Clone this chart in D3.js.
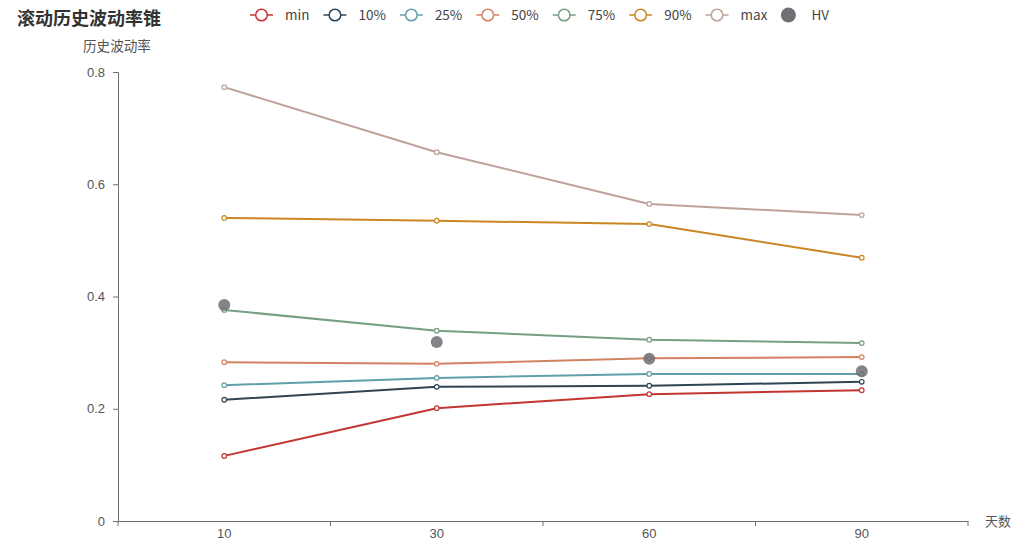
<!DOCTYPE html>
<html><head><meta charset="utf-8">
<script src="https://cdn.jsdelivr.net/npm/d3@7"></script>
<style>body{margin:0;background:#fff}svg{display:block;font-family:"Noto Sans CJK SC","Noto Sans",sans-serif}</style>
</head><body><svg id="c" width="1015" height="543"></svg>
<script>
const days = ["10","30","60","90"];
const seriesNames = ["min","10%","25%","50%","75%","90%","max"];
const vMin = [0.116,0.201,0.226,0.233];
const v10 = [0.216,0.239,0.241,0.248];
const v25 = [0.242,0.255,0.262,0.262];
const v50 = [0.283,0.280,0.290,0.292];
const v75 = [0.376,0.339,0.323,0.317];
const v90 = [0.540,0.535,0.529,0.469];
const vMax = [0.773,0.657,0.565,0.545];
const hv = [0.385,0.319,0.289,0.267];
const yTicks = [0,0.2,0.4,0.6,0.8];
const colors = ["#c23531","#2f4554","#61a0a8","#d48265","#749f83","#ca8622","#bda29a"];
const hvColor = "#6e7074";

const values = [vMin,v10,v25,v50,v75,v90,vMax];
const svg = d3.select("#c");
const L=118,R=968,T=72,B=521;
const x = d3.scaleBand().domain(days).range([L,R]);
const y = d3.scaleLinear().domain([0,0.8]).range([B,T]);
const cx = d => x(d)+x.bandwidth()/2;

// axes
const ya = svg.append("g").attr("transform",`translate(${L},0)`)
  .call(d3.axisLeft(y).tickValues(yTicks).tickFormat(d=>d===0?"0":d3.format(".1f")(d)).tickSize(5).tickPadding(8));
ya.select(".domain").attr("stroke","#6e7079");
ya.selectAll(".tick line").attr("stroke","#6e7079");
ya.selectAll("text").attr("fill","#555").attr("font-size",13);

const xa = svg.append("g").attr("transform",`translate(0,${B})`)
  .call(d3.axisBottom(x).tickSize(0).tickPadding(8));
xa.select(".domain").attr("stroke","#6e7079").attr("stroke-width",1.2);
xa.selectAll("text").attr("fill","#555").attr("font-size",13);
// boundary ticks
const bounds = days.map(d=>x(d)).concat([R]);
svg.append("g").selectAll("line").data(bounds).join("line")
  .attr("x1",d=>d).attr("x2",d=>d).attr("y1",B).attr("y2",B+5).attr("stroke","#6e7079");

svg.append("text").attr("x",985).attr("y",B+5).attr("font-size",13).attr("fill","#555").text("天数");
svg.append("text").attr("x",83).attr("y",51).attr("font-size",13.6).attr("fill","#555").text("历史波动率");

// lines
const line = d3.line().x((v,i)=>cx(days[i])).y(v=>y(v));
values.forEach((vals,k)=>{
  svg.append("path").attr("d",line(vals)).attr("fill","none").attr("stroke",colors[k]).attr("stroke-width",2);
});
values.forEach((vals,k)=>{
  svg.append("g").selectAll("circle").data(vals).join("circle")
    .attr("cx",(v,i)=>cx(days[i])).attr("cy",v=>y(v)).attr("r",2.3)
    .attr("fill","#fff").attr("stroke",colors[k]).attr("stroke-width",1.2);
});
svg.append("g").selectAll("circle").data(hv).join("circle")
  .attr("cx",(v,i)=>cx(days[i])).attr("cy",v=>y(v)).attr("r",6).attr("fill",hvColor).attr("opacity",0.85);

// title
svg.append("text").attr("x",17).attr("y",25).attr("font-size",18).attr("font-weight","bold").attr("fill","#333").text("滚动历史波动率锥");

// legend
const lg = svg.append("g");
let lx = 250; const ly = 15;
seriesNames.forEach((n,k)=>{
  const g = lg.append("g");
  g.append("line").attr("x1",lx).attr("x2",lx+23).attr("y1",ly).attr("y2",ly).attr("stroke",colors[k]).attr("stroke-width",1.5);
  g.append("circle").attr("cx",lx+11.5).attr("cy",ly).attr("r",5.8).attr("fill","#fff").attr("stroke",colors[k]).attr("stroke-width",1.5);
  const t = g.append("text").attr("x",lx+35).attr("y",ly+5).attr("font-size",13.5).attr("fill","#444").text(n);
  const w = t.node().getComputedTextLength();
  lx += 35 + w + 14;
});
lg.append("circle").attr("cx",lx+7).attr("cy",ly).attr("r",7.5).attr("fill",hvColor);
lg.append("text").attr("x",lx+30).attr("y",ly+5).attr("font-size",13.5).attr("fill","#444").text("HV");
</script></body></html>
